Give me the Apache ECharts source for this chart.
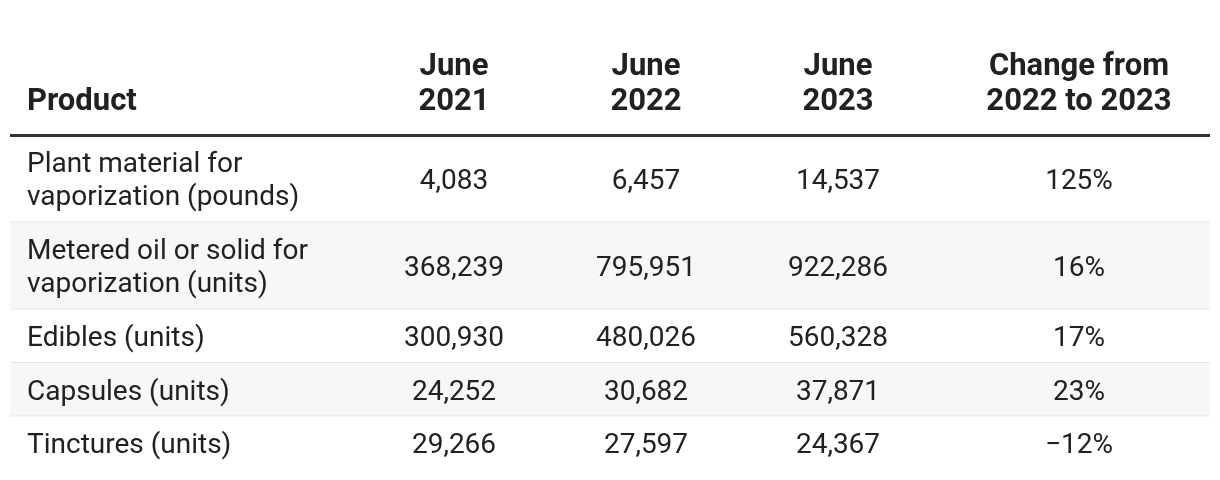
<!DOCTYPE html>
<html>
<head>
<meta charset="utf-8">
<script src="https://cdn.jsdelivr.net/npm/echarts@6/dist/echarts.min.js"></script>
<style>
html,body{margin:0;padding:0;background:#fff;}
#chart{width:1220px;height:480px;}
</style>
</head>
<body>
<div id="chart"></div>
<script>
// ---- data ----
const columnHeaders = ['Product', 'June\n2021', 'June\n2022', 'June\n2023', 'Change from\n2022 to 2023'];
const products = [
  'Plant material for\nvaporization (pounds)',
  'Metered oil or solid for\nvaporization (units)',
  'Edibles (units)',
  'Capsules (units)',
  'Tinctures (units)'
];
const june2021 = [4083, 368239, 300930, 24252, 29266];
const june2022 = [6457, 795951, 480026, 30682, 27597];
const june2023 = [14537, 922286, 560328, 37871, 24367];
const changePct = [125, 16, 17, 23, -12];

// ---- layout / style ----
const FONT = 'Roboto, "Noto Sans", sans-serif';
const BODY_SIZE = 28, HEAD_SIZE = 31;
const BODY_LH = 33, HEAD_LH = 35;
const TEXT = '#212121';
const colX = [17, 444, 636, 828, 1069];        // x-axis units (left edge for col 0, centers otherwise)
const headerUnits = 3, rowPad = 0.6;

const fmtNum = v => v.toLocaleString('en-US');
const fmtPct = v => (v < 0 ? '\u2212' + Math.abs(v) : String(v)) + '%';

// build row spans from line counts
const rows = [];
let y = headerUnits;
products.forEach((p, i) => {
  const lines = p.split('\n').length;
  const h = lines + rowPad;
  rows.push({ i, y0: y, y1: y + h, lines });
  y += h;
});
const totalUnits = y;

const chart = echarts.init(document.getElementById('chart'), null, { renderer: 'canvas' });

function textEl(x, yy, str, align, vAlign, bold, size, lh) {
  return {
    type: 'text',
    style: {
      x: x, y: yy, text: str, textAlign: align, textVerticalAlign: vAlign,
      fill: TEXT, font: (bold ? 'bold ' : '') + size + 'px ' + FONT, lineHeight: lh
    }
  };
}

chart.setOption({
  animation: false,
  grid: { left: 10, right: 10, top: 35, bottom: 10 },
  xAxis: { type: 'value', min: 0, max: 1200, show: false },
  yAxis: { type: 'value', min: 0, max: totalUnits, inverse: true, show: false },
  series: [
    {
      // row backgrounds + separators
      type: 'custom',
      silent: true,
      data: rows.map(r => [r.i, r.y0, r.y1]),
      renderItem: function (params, api) {
        const i = api.value(0);
        const p0 = api.coord([0, api.value(1)]);
        const p1 = api.coord([1200, api.value(2)]);
        const children = [{
          type: 'rect',
          shape: { x: p0[0], y: p0[1], width: p1[0] - p0[0], height: p1[1] - p0[1] },
          style: { fill: i % 2 === 1 ? '#f7f7f7' : '#ffffff' }
        }];
        if (i < products.length - 1) {
          children.push({
            type: 'line',
            shape: { x1: p0[0], y1: p1[1], x2: p1[0], y2: p1[1] },
            style: { stroke: '#e6e6e6', lineWidth: 2 }
          });
        }
        return { type: 'group', children: children };
      },
      z: 1
    },
    {
      // header
      type: 'custom',
      silent: true,
      data: columnHeaders.map((h, c) => [c]),
      renderItem: function (params, api) {
        const c = api.value(0);
        const pb = api.coord([colX[c], headerUnits]);
        const children = [textEl(pb[0], pb[1] - 16, columnHeaders[c], c === 0 ? 'left' : 'center', 'bottom', true, HEAD_SIZE, HEAD_LH)];
        if (c === 0) {
          const l0 = api.coord([0, headerUnits]);
          const l1 = api.coord([1200, headerUnits]);
          children.push({
            type: 'line',
            shape: { x1: l0[0], y1: l0[1], x2: l1[0], y2: l1[1] },
            style: { stroke: '#333333', lineWidth: 3 }
          });
        }
        return { type: 'group', children: children };
      },
      z: 3
    },
    {
      // cells
      type: 'custom',
      silent: true,
      data: rows.map(r => [r.i, (r.y0 + r.y1) / 2]),
      renderItem: function (params, api) {
        const i = api.value(0);
        const yc = api.value(1);
        const vals = [products[i], fmtNum(june2021[i]), fmtNum(june2022[i]), fmtNum(june2023[i]), fmtPct(changePct[i])];
        const children = vals.map((v, c) => {
          const p = api.coord([colX[c], yc]);
          return textEl(p[0], p[1] + 3, v, c === 0 ? 'left' : 'center', 'middle', false, BODY_SIZE, BODY_LH);
        });
        return { type: 'group', children: children };
      },
      z: 3
    }
  ]
});
</script>
</body>
</html>
